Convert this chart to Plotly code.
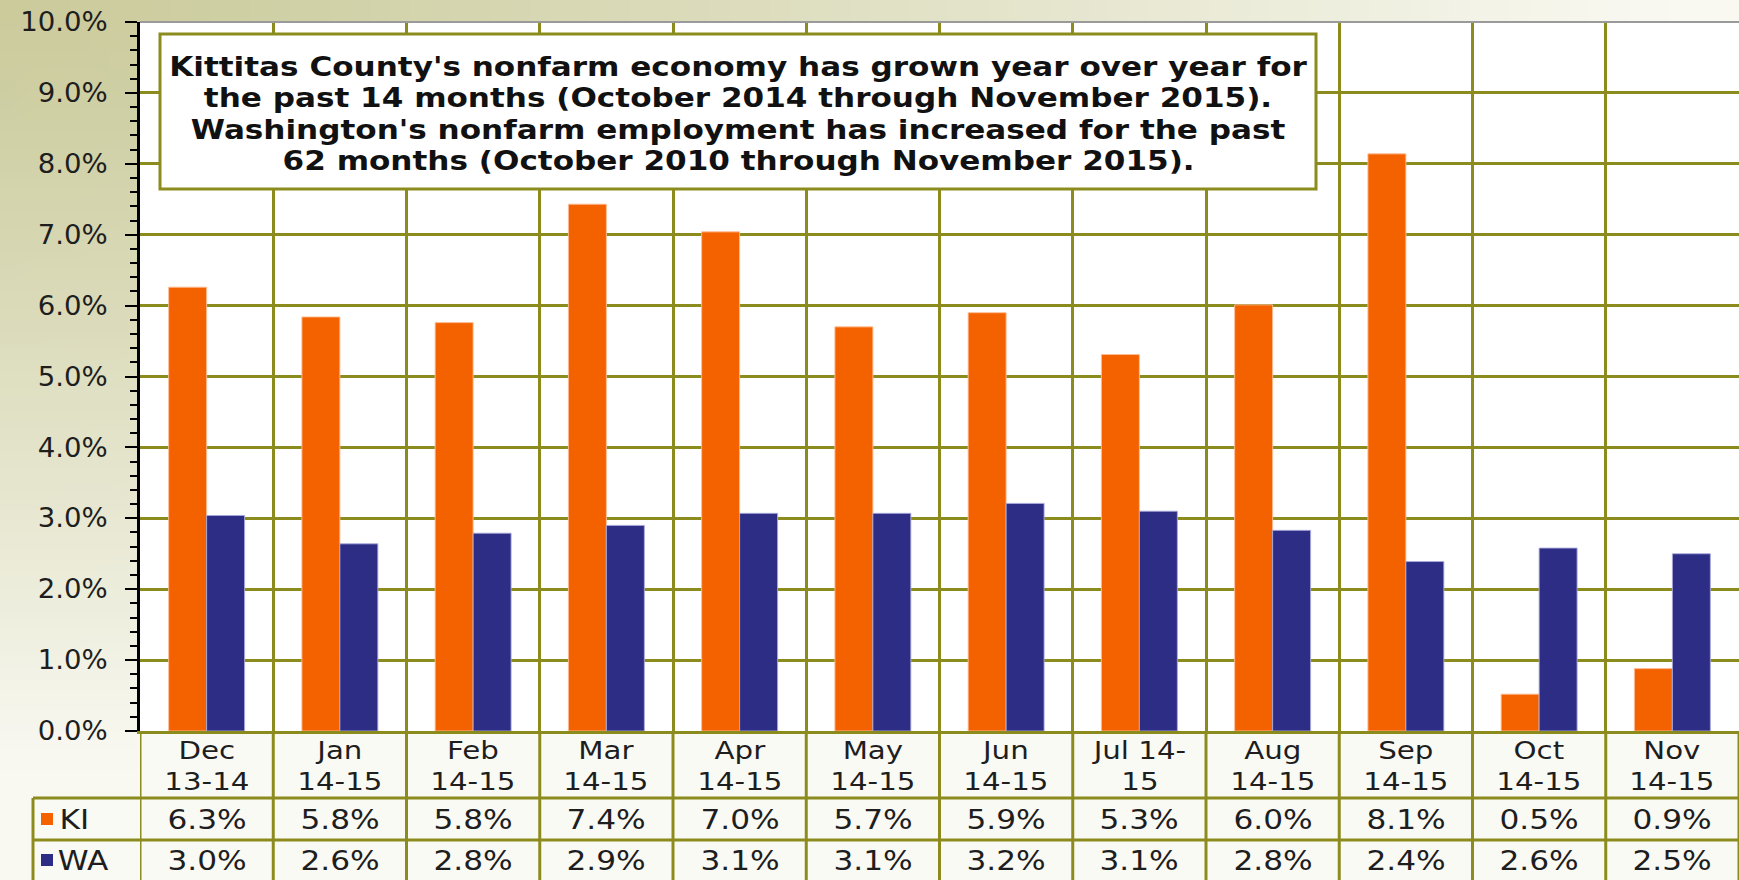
import zlib, struct, base64, math, json
import plotly.graph_objects as go

# ---------------- data ----------------
categories = ["Dec<br>13-14", "Jan<br>14-15", "Feb<br>14-15", "Mar<br>14-15",
              "Apr<br>14-15", "May<br>14-15", "Jun<br>14-15", "Jul 14-<br>15",
              "Aug<br>14-15", "Sep<br>14-15", "Oct<br>14-15", "Nov<br>14-15"]
series_names = ["KI", "WA"]
ki_values = [6.26, 5.84, 5.76, 7.43, 7.04, 5.70, 5.90, 5.31, 6.01, 8.14, 0.52, 0.88]
wa_values = [3.04, 2.64, 2.79, 2.90, 3.07, 3.07, 3.21, 3.10, 2.83, 2.39, 2.58, 2.50]
y_ticks = [0, 1, 2, 3, 4, 5, 6, 7, 8, 9, 10]
note_lines = [
    "Kittitas County's nonfarm economy has grown year over year for",
    "the past 14 months (October 2014 through November 2015).",
    "Washington's nonfarm employment has increased for the past",
    "62 months (October 2010 through November 2015).",
]

# ---------------- geometry / style ----------------
W, H = 1739, 880
ML, MR, MT, MB = 140, 0, 22, 149
PW, PH = W - ML - MR, H - MT - MB
OLIVE = "#8C8C1E"
KI_COLOR = "#F46200"
WA_COLOR = "#2D2D86"
FONT = "DejaVu Sans"
TXT = "#1E1E1E"
NOTE_LINE_Y = [66.5, 97.6, 129.8, 160.8]


def px_x(x):
    return (x - ML) / PW


def px_y(y):
    return 1 - (y - MT) / PH


# background gradient image (khaki top-left fading to near white)
def gradient_uri(w=87, h=44):
    K = (203, 203, 156)
    L = (249, 249, 242)
    raw = bytearray()
    for j in range(h):
        raw.append(0)
        for i in range(w):
            fx = (i + 0.5) * W / w
            fy = (j + 0.5) * H / h
            t = math.sqrt((fx / 1650.0) ** 2 + (fy / 760.0) ** 2)
            t = min(1.0, t) ** 1.15
            raw.extend(int(K[c] + (L[c] - K[c]) * t) for c in range(3))

    def chunk(tag, data):
        c = struct.pack(">I", len(data)) + tag + data
        return c + struct.pack(">I", zlib.crc32(tag + data) & 0xFFFFFFFF)

    png = (b"\x89PNG\r\n\x1a\n"
           + chunk(b"IHDR", struct.pack(">IIBBBBB", w, h, 8, 2, 0, 0, 0))
           + chunk(b"IDAT", zlib.compress(bytes(raw), 9))
           + chunk(b"IEND", b""))
    return "data:image/png;base64," + base64.b64encode(png).decode()


fig = go.Figure()
fig.add_trace(go.Bar(x=categories, y=ki_values, name=series_names[0],
                     marker=dict(color=KI_COLOR, line=dict(color="rgba(255,190,150,0.9)", width=1)),
                     hoverinfo="skip"))
fig.add_trace(go.Bar(x=categories, y=wa_values, name=series_names[1],
                     marker=dict(color=WA_COLOR, line=dict(color="rgba(170,170,220,0.9)", width=1)),
                     hoverinfo="skip"))

shapes = []
shapes.append(dict(type="rect", xref="paper", yref="paper", x0=0, x1=1, y0=0, y1=1,
                   fillcolor="white", line=dict(width=0), layer="below"))
shapes.append(dict(type="rect", xref="paper", yref="paper", x0=0, x1=1,
                   y0=px_y(798), y1=0, fillcolor="#FAFAF5", line=dict(width=0), layer="below"))
shapes.append(dict(type="rect", xref="paper", yref="paper", x0=px_x(33), x1=1,
                   y0=px_y(H + 5), y1=px_y(798), fillcolor="#FAFAF5", line=dict(width=0), layer="below"))
for yy in (798, 840):
    shapes.append(dict(type="line", xref="paper", yref="paper", x0=px_x(33), x1=1,
                       y0=px_y(yy), y1=px_y(yy), line=dict(color=OLIVE, width=3)))
shapes.append(dict(type="line", xref="paper", yref="paper", x0=px_x(33), x1=px_x(33),
                   y0=px_y(798), y1=px_y(H + 5), line=dict(color=OLIVE, width=3)))
for k in range(len(categories) + 1):
    shapes.append(dict(type="line", xref="x", yref="paper", x0=k - 0.5, x1=k - 0.5,
                       y0=0, y1=px_y(H + 5), line=dict(color=OLIVE, width=3)))
for name, col, yc in ((series_names[0], KI_COLOR, 819), (series_names[1], WA_COLOR, 860)):
    shapes.append(dict(type="rect", xref="paper", yref="paper", x0=px_x(41), x1=px_x(53),
                       y0=px_y(yc + 6), y1=px_y(yc - 6), fillcolor=col, line=dict(width=0)))
shapes.append(dict(type="line", xref="paper", yref="paper", x0=0, x1=1, y0=1, y1=1,
                   line=dict(color="#9A9A9A", width=2), layer="above"))
# note box
shapes.append(dict(type="rect", xref="paper", yref="paper", x0=px_x(160), x1=px_x(1316),
                   y0=px_y(189), y1=px_y(34), fillcolor="white",
                   line=dict(color=OLIVE, width=3), layer="above"))

annotations = []
stretch = []  # horizontal stretch factor per annotation (visual match of the wide source text)

for line, yl in zip(note_lines, NOTE_LINE_Y):
    annotations.append(dict(
        xref="paper", yref="paper", x=px_x(738), y=px_y(yl), xanchor="center", yanchor="middle",
        text=line, showarrow=False, align="center",
        font=dict(family=FONT, size=26, color="#111111", weight="bold")))
    stretch.append(1.195)

for cat in categories:
    annotations.append(dict(xref="x", yref="paper", x=cat, y=px_y(766), xanchor="center",
                            yanchor="middle", text=cat, showarrow=False, align="center",
                            font=dict(family=FONT, size=24, color=TXT)))
    stretch.append(1.22)

for cat, kv, wv in zip(categories, ki_values, wa_values):
    for val, yc in ((kv, 820), (wv, 861)):
        annotations.append(dict(xref="x", yref="paper", x=cat, y=px_y(yc), xanchor="center",
                                yanchor="middle", text=f"{val:.1f}%", showarrow=False,
                                font=dict(family=FONT, size=26, color=TXT)))
        stretch.append(1.2)

for name, yc in ((series_names[0], 820), (series_names[1], 861)):
    annotations.append(dict(xref="paper", yref="paper", x=px_x(60), y=px_y(yc), xanchor="left",
                            yanchor="middle", text=name, showarrow=False,
                            font=dict(family=FONT, size=26, color=TXT)))
    stretch.append(1.2)

fig.update_layout(
    width=W, height=H, autosize=False,
    margin=dict(l=ML, r=MR, t=MT, b=MB, pad=0),
    paper_bgcolor="#F8F8F1", plot_bgcolor="rgba(0,0,0,0)",
    barmode="group", bargap=0.43, bargroupgap=0,
    showlegend=False,
    xaxis=dict(type="category", range=[-0.5, len(categories) - 0.5], tickson="boundaries",
               showgrid=True, gridcolor=OLIVE, gridwidth=2.5, ticks="", showticklabels=False,
               showline=True, linecolor=OLIVE, linewidth=3, fixedrange=True),
    yaxis=dict(range=[0, 10], tickvals=y_ticks, ticktext=[f"{v:.1f}%" for v in y_ticks],
               ticks="outside", ticklen=12, tickwidth=2, tickcolor="black",
               showline=True, linecolor="black", linewidth=3,
               showgrid=True, gridcolor=OLIVE, gridwidth=2.5, zeroline=False,
               minor=dict(dtick=0.2, tick0=0, ticks="outside", ticklen=7, tickwidth=2,
                          tickcolor="black", showgrid=False),
               tickfont=dict(family=FONT, size=26, color=TXT), ticklabelstandoff=12,
               fixedrange=True),
    yaxis2=dict(overlaying="y", matches="y", anchor="x", side="left",
                tickvals=y_ticks, ticks="inside", ticklen=15, tickwidth=2, tickcolor="black",
                showticklabels=False, showgrid=False, showline=False, zeroline=False,
                minor=dict(dtick=0.2, tick0=0, ticks="inside", ticklen=12, tickwidth=2,
                           tickcolor="black", showgrid=False), fixedrange=True),
    shapes=shapes,
    annotations=annotations,
    images=[dict(source=gradient_uri(), xref="paper", yref="paper",
                 x=-ML / PW, y=1 + MT / PH, sizex=W / PW, sizey=H / PH,
                 xanchor="left", yanchor="top", sizing="stretch", layer="below")],
)

post = """
document.body.style.margin='0';document.body.style.overflow='hidden';
var F = %s;
function st(el, f){
  if (el.getAttribute('lengthAdjust')) return;
  var n = el.getComputedTextLength();
  if (n > 0) { el.setAttribute('textLength', (n * f).toFixed(1)); el.setAttribute('lengthAdjust', 'spacingAndGlyphs'); }
}
function applyStretch(){
  document.querySelectorAll('g.annotation').forEach(function(g){
    var i = +g.getAttribute('data-index'); var f = F[i];
    if (!f || f === 1) return;
    var t = g.querySelector('text.annotation-text'); if (!t) return;
    var lines = t.querySelectorAll('tspan.line');
    if (lines.length) { lines.forEach(function(s){ st(s, f); }); } else { st(t, f); }
  });
  document.querySelectorAll('.yaxislayer-above text').forEach(function(t){ st(t, 1.06); });
}
applyStretch();
setTimeout(applyStretch, 50);
setTimeout(applyStretch, 300);
""" % json.dumps(stretch)

fig.write_html("out.html", config={"displayModeBar": False}, post_script=post)
